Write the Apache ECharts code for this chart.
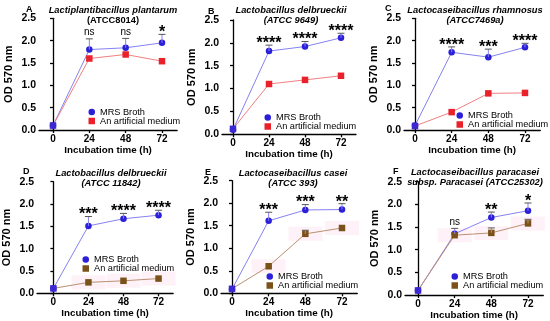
<!DOCTYPE html>
<html><head><meta charset="utf-8">
<script src="https://cdn.jsdelivr.net/npm/echarts@6/dist/echarts.min.js"></script>
<style>html,body{margin:0;padding:0;background:#fff}#c{width:550px;height:321px}</style>
</head><body><div id="c"></div>
<script>
// ---- data ----
const hours = [0, 24, 48, 72];
const xTickLabels = [0, 24, 48, 72];
const yTicks = [0, 0.5, 1.0, 1.5, 2.0, 2.5];
const seriesNames = ['MRS Broth', 'An artificial medium'];
const letters = ['A', 'B', 'C', 'D', 'E', 'F'];
const speciesLine1 = ['Lactiplantibacillus plantarum', 'Lactobacillus delbrueckii', 'Lactocaseibacillus rhamnosus',
  'Lactobacillus delbrueckii', 'Lactocaseibacillus casei', 'Lactocaseibacillus paracasei'];
const speciesLine2 = ['(ATCC8014)', '(ATCC 9649)', '(ATCC7469a)', '(ATCC 11842)', '(ATCC 393)', 'subsp. Paracasei (ATCC25302)'];

const mrsA = [0.10, 1.80, 1.84, 1.95];
const mrsTopA = [null, 2.04, 2.05, 2.14];
const artA = [0.10, 1.60, 1.69, 1.54];
const artTopA = [null, null, null, null];
const sigA = ['', 'ns', 'ns', '*'];

const mrsB = [0.10, 1.82, 1.92, 2.11];
const mrsTopB = [null, 1.95, 2.03, 2.21];
const artB = [0.12, 1.10, 1.19, 1.28];
const artTopB = [null, null, null, null];
const sigB = ['', '****', '****', '****'];

const mrsC = [0.10, 1.74, 1.63, 1.85];
const mrsTopC = [null, 1.86, 1.81, 1.94];
const artC = [0.09, 0.40, 0.82, 0.83];
const artTopC = [null, null, null, null];
const sigC = ['', '****', '***', '****'];

const mrsD = [0.11, 1.51, 1.67, 1.75];
const mrsTopD = [null, 1.72, 1.79, 1.86];
const artD = [0.11, 0.245, 0.28, 0.33];
const artTopD = [null, null, null, null];
const sigD = ['', '***', '****', '****'];

const mrsE = [0.09, 1.61, 1.85, 1.86];
const mrsTopE = [null, 1.80, 1.97, 1.99];
const artE = [0.10, 0.60, 1.32, 1.45];
const artTopE = [null, null, 1.40, null];
const sigE = ['', '***', '***', '**'];

const mrsF = [0.10, 1.35, 1.71, 1.86];
const mrsTopF = [null, 1.47, 1.83, 2.03];
const artF = [0.10, 1.32, 1.37, 1.58];
const artTopF = [null, null, 1.48, 1.67];
const sigF = ['', 'ns', '**', '*'];

const mrsAll = [mrsA, mrsB, mrsC, mrsD, mrsE, mrsF];
const mrsTopAll = [mrsTopA, mrsTopB, mrsTopC, mrsTopD, mrsTopE, mrsTopF];
const artAll = [artA, artB, artC, artD, artE, artF];
const artTopAll = [artTopA, artTopB, artTopC, artTopD, artTopE, artTopF];
const sigAll = [sigA, sigB, sigC, sigD, sigE, sigF];

// ---- layout / style ----
const FONT = '"Liberation Sans", Arial, Helvetica, sans-serif';
// [axisX, x0px, x72px, yTop(2.5), yBottom(0)]
const layout = [
  [39, 53, 162, 18.3, 130],
  [222, 233, 341, 20, 134.3],
  [404, 415, 525, 18.3, 130],
  [32, 49, 158, 181.7, 293.3],
  [221, 232, 342, 180.7, 293.3],
  [405, 418, 528, 181.7, 295]
];
const titlePos = [[113, 5], [291, 5], [475, 5], [111, 168], [293, 168], [475, 167]];
const letterPos = [[26, 5], [208, 7], [385, 4], [23, 167], [205, 168], [393, 167]];
const legendPos = [[88.5, 107.5], [264.5, 113], [456.5, 111], [82.5, 255], [266.5, 272], [451.5, 272]];
const X_MAX = 82;
const BLUE = '#2b1fd9', BLUE_LINE = '#8582ef';
const RED = '#e8212a', RED_LINE = '#f07f82';
const BROWN = '#7a5219', BROWN_LINE = '#bb9073';

const grids = [], xAxes = [], yAxes = [], series = [], titles = [], legends = [];

function errRender(sig, barColor) {
  return function (params, api) {
    const x = api.value(0), y = api.value(1), t = api.value(2), idx = api.value(3);
    const p0 = api.coord([x, y]);
    const p1 = api.coord([x, t]);
    const ch = [
      { type: 'line', shape: { x1: p0[0], y1: p0[1], x2: p1[0], y2: p1[1] }, style: { stroke: barColor, lineWidth: 1 } },
      { type: 'line', shape: { x1: p1[0] - 3.5, y1: p1[1], x2: p1[0] + 3.5, y2: p1[1] }, style: { stroke: '#555', lineWidth: 1 } }
    ];
    const s = sig ? sig[idx] : '';
    if (s) {
      const isNs = s === 'ns';
      ch.push({
        type: 'text', x: p1[0], y: p1[1] - (isNs ? 6.5 : 1.5),
        style: { text: s, fill: '#000', align: 'center', verticalAlign: 'middle',
          font: (isNs ? 'normal 10px ' : 'bold 16px ') + FONT }
      });
    }
    return { type: 'group', children: ch };
  };
}
function pinkRender(params, api) {
  const p = api.coord([api.value(0), api.value(1)]);
  return { type: 'rect', shape: { x: p[0] - 17, y: p[1] - 7, width: 34, height: 14 },
    style: { fill: 'rgba(250,205,228,0.25)' } };
}

for (let i = 0; i < 6; i++) {
  const [ax, x0, x72, yt, yb] = layout[i];
  const s = (x72 - x0) / 72;
  const xMin = -(x0 - ax) / s;
  grids.push({ left: ax, top: yt, width: (X_MAX - xMin) * s, height: yb - yt, containLabel: false });
  xAxes.push({
    gridIndex: i, type: 'value', min: xMin, max: X_MAX,
    axisLine: { show: true, onZero: false, lineStyle: { color: '#000', width: 1.3 } },
    axisTick: { show: true, customValues: hours, length: 3, lineStyle: { color: '#000', width: 1.3 } },
    axisLabel: { customValues: xTickLabels, color: '#000', fontWeight: 'bold', fontSize: 10, fontFamily: FONT, margin: 4 },
    splitLine: { show: false },
    name: 'Incubation time (h)', nameLocation: 'middle', nameGap: 11,
    nameTextStyle: { color: '#000', fontWeight: 'bold', fontSize: 9.8, fontFamily: FONT, verticalAlign: 'top' }
  });
  yAxes.push({
    gridIndex: i, type: 'value', min: 0, max: 2.5, interval: 0.5,
    axisLine: { show: true, lineStyle: { color: '#000', width: 1.3 } },
    axisTick: { show: true, length: 3, lineStyle: { color: '#000', width: 1.3 } },
    axisLabel: { color: '#000', fontWeight: 'bold', fontSize: 10.5, fontFamily: FONT, margin: 3,
      formatter: v => v.toFixed(1) },
    splitLine: { show: false },
    name: 'OD 570 nm', nameLocation: 'middle', nameGap: 25, nameRotate: 90,
    nameTextStyle: { color: '#000', fontWeight: 'bold', fontSize: 11, fontFamily: FONT }
  });
  const artColor = i < 3 ? RED : BROWN;
  const artLine = i < 3 ? RED_LINE : BROWN_LINE;

  if (i >= 3) {
    series.push({ type: 'custom', xAxisIndex: i, yAxisIndex: i, z: 1, silent: true,
      renderItem: pinkRender,
      data: hours.map((h, k) => [h, artAll[i][k]]).filter(d => d[0] > 0) });
  }
  series.push({
    name: seriesNames[0], type: 'line', xAxisIndex: i, yAxisIndex: i, z: 3,
    data: hours.map((h, k) => [h, mrsAll[i][k]]),
    symbol: 'circle', symbolSize: 6.5, itemStyle: { color: BLUE },
    lineStyle: { color: BLUE_LINE, width: 1 }, animation: false
  });
  series.push({
    name: seriesNames[1], type: 'line', xAxisIndex: i, yAxisIndex: i, z: 4,
    data: hours.map((h, k) => (h === 0 ? { value: [h, artAll[i][k]], itemStyle: { color: '#3c28d2' } } : [h, artAll[i][k]])),
    symbol: 'rect', symbolSize: 6.5, itemStyle: { color: artColor },
    lineStyle: { color: artLine, width: 1 }, animation: false
  });
  series.push({
    type: 'custom', xAxisIndex: i, yAxisIndex: i, z: 5, silent: true,
    renderItem: errRender(sigAll[i], BLUE_LINE),
    data: hours.map((h, k) => [h, mrsAll[i][k], mrsTopAll[i][k], k]).filter(d => d[2] != null)
  });
  series.push({
    type: 'custom', xAxisIndex: i, yAxisIndex: i, z: 5, silent: true,
    renderItem: errRender(null, artLine),
    data: hours.map((h, k) => [h, artAll[i][k], artTopAll[i][k], k]).filter(d => d[2] != null)
  });

  titles.push({
    text: '{a|' + speciesLine1[i] + '}\n{' + (i === 0 ? 'b' : 'a') + '|' + speciesLine2[i] + '}',
    left: titlePos[i][0], top: titlePos[i][1], textAlign: 'center', padding: 0,
    textStyle: { rich: {
      a: { fontSize: 9.3, fontWeight: 'bold', fontStyle: 'italic', fontFamily: FONT, color: '#000', lineHeight: 10.5 },
      b: { fontSize: 9.3, fontWeight: 'bold', fontFamily: FONT, color: '#000', lineHeight: 10.5 } } }
  });
  titles.push({
    text: letters[i], left: letterPos[i][0], top: letterPos[i][1], padding: 0,
    textStyle: { fontSize: 9, fontWeight: 'bold', fontFamily: FONT, color: '#000' }
  });
  legends.push({
    left: legendPos[i][0], top: legendPos[i][1], orient: 'vertical', padding: 0,
    itemWidth: 6.5, itemHeight: 6.5, itemGap: 0, selectedMode: false,
    textStyle: { fontSize: 9.2, fontFamily: FONT, color: '#000' },
    data: [
      { name: seriesNames[0], icon: 'circle', itemStyle: { color: BLUE } },
      { name: seriesNames[1], icon: 'rect', itemStyle: { color: artColor } }
    ]
  });
}

const chart = echarts.init(document.getElementById('c'), null, { renderer: 'canvas' });
chart.setOption({
  animation: false, backgroundColor: '#fff',
  title: titles, legend: legends, grid: grids, xAxis: xAxes, yAxis: yAxes, series: series
});
</script></body></html>
